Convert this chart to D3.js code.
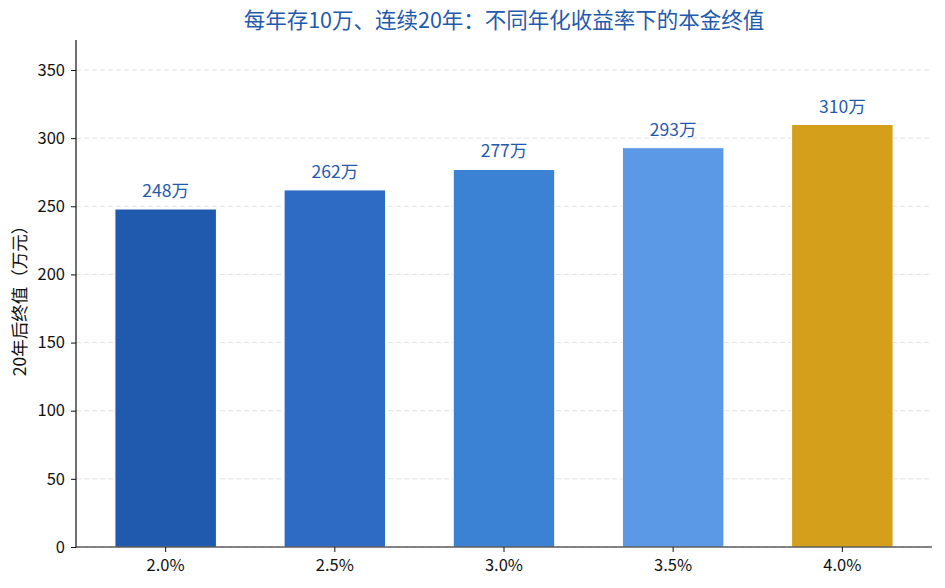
<!DOCTYPE html>
<html>
<head>
<meta charset="utf-8">
<script src="https://cdn.jsdelivr.net/npm/d3@7"></script>
<style>
  body { margin: 0; background: #fff; }
  svg { font-family: "Noto Sans CJK SC", "Noto Sans", sans-serif; }
</style>
</head>
<body>
<svg width="945" height="588"></svg>
<script>
// data
const rates = ['2.0%', '2.5%', '3.0%', '3.5%', '4.0%']
const finalValues = [248, 262, 277, 293, 310]
const barColors = ['#1f5aae', '#2e6bc4', '#3b81d4', '#5b98e6', '#d4a01b']
const yTicks = [0, 50, 100, 150, 200, 250, 300, 350]

const margin = {top: 40, right: 13, bottom: 41, left: 76}
const width = 945, height = 588

const svg = d3.select('svg')

const x = d3.scaleBand()
    .domain(rates)
    .range([margin.left, width - margin.right])
    .paddingInner(0.4)
    .paddingOuter(0.23)

const y = d3.scaleLinear()
    .domain([0, d3.max(finalValues) * 1.2])
    .range([height - margin.bottom, margin.top])

// grid below the bars
svg.append('g')
    .selectAll('line')
    .data(yTicks)
    .join('line')
    .attr('x1', margin.left)
    .attr('x2', width - margin.right)
    .attr('y1', d => y(d))
    .attr('y2', d => y(d))
    .attr('stroke', '#e3e3e3')
    .attr('stroke-width', 1)
    .attr('stroke-dasharray', '5,3')

svg.append('g')
    .selectAll('rect')
    .data(finalValues)
    .join('rect')
    .attr('x', (d, i) => x(rates[i]))
    .attr('y', d => y(d))
    .attr('width', x.bandwidth())
    .attr('height', d => y(0) - y(d))
    .attr('fill', (d, i) => barColors[i])
    .attr('stroke', '#ffffff')
    .attr('stroke-width', 1)

svg.append('g')
    .selectAll('text')
    .data(finalValues)
    .join('text')
    .attr('x', (d, i) => x(rates[i]) + x.bandwidth() / 2)
    .attr('y', d => y(d) - 12)
    .attr('text-anchor', 'middle')
    .attr('fill', '#1f5aae')
    .attr('font-size', 17.5)
    .text(d => d + '万')

// axes
const yAxis = d3.axisLeft(y).tickValues(yTicks).tickSize(5).tickPadding(6)
svg.append('g')
    .attr('transform', `translate(${margin.left}, 0)`)
    .call(yAxis)
    .call(g => g.select('.domain').attr('d', `M0,${y(0)}V${margin.top}`))

const xAxis = d3.axisBottom(x).tickSize(5).tickPadding(7)
svg.append('g')
    .attr('transform', `translate(0, ${height - margin.bottom})`)
    .call(xAxis)
    .call(g => g.select('.domain').attr('d', `M${margin.left},0H${width - margin.right}`))

svg.selectAll('.tick text')
    .attr('font-family', '"Noto Sans CJK SC", sans-serif')
    .attr('font-size', 16.5)
    .attr('fill', '#111')
svg.selectAll('.domain').attr('stroke', '#111').attr('stroke-width', 1.2)
svg.selectAll('.tick line').attr('stroke', '#111')

// titles
svg.append('text')
    .attr('x', (margin.left + width - margin.right) / 2)
    .attr('y', 28)
    .attr('text-anchor', 'middle')
    .attr('fill', '#1f5aae')
    .attr('font-size', 21.5)
    .text('每年存10万、连续20年：不同年化收益率下的本金终值')

svg.append('text')
    .attr('transform', `translate(26, ${(margin.top + height - margin.bottom) / 2 + 3}) rotate(-90)`)
    .attr('text-anchor', 'middle')
    .attr('fill', '#111')
    .attr('font-size', 17.5)
    .text('20年后终值（万元）')
</script>
</body>
</html>
